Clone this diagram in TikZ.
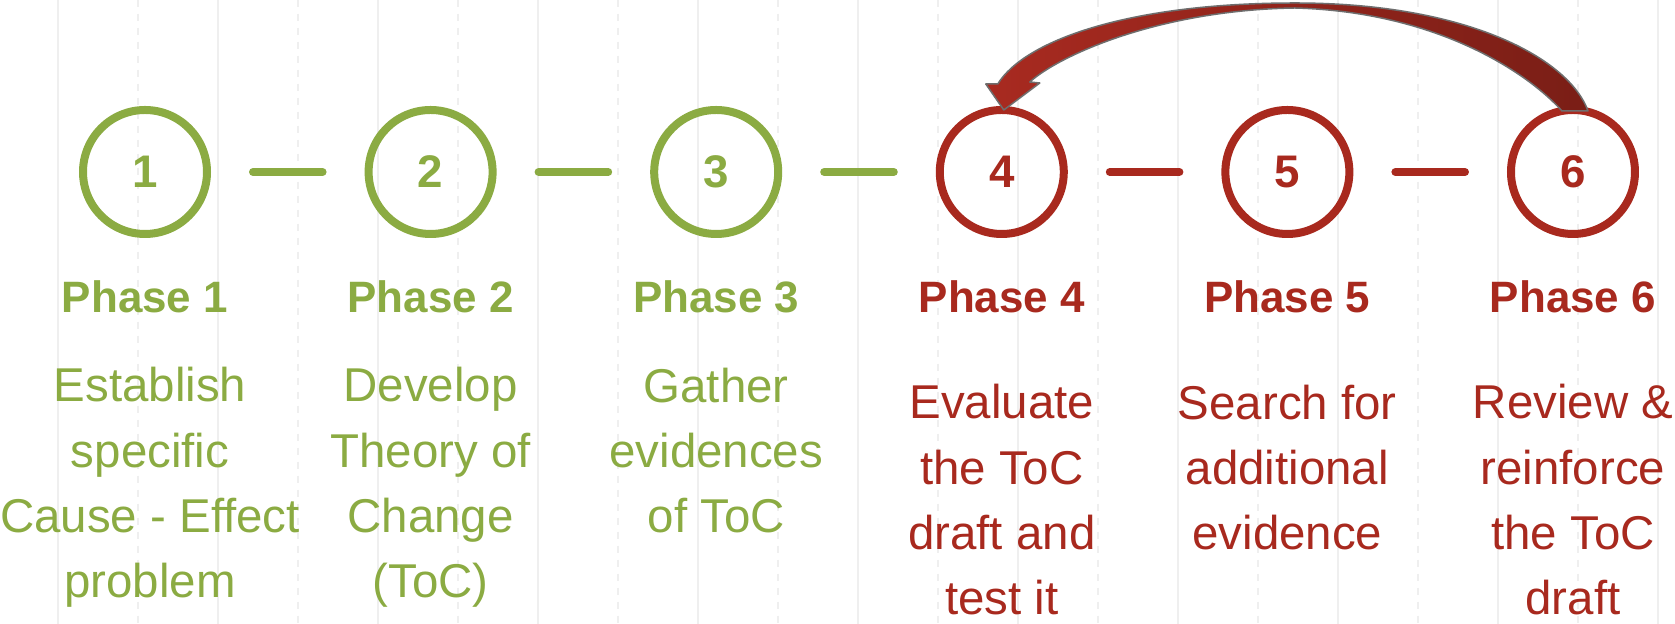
\documentclass[tikz,border=0pt]{standalone}
\usepackage{fontspec}
\setmainfont{Liberation Sans}
\usetikzlibrary{positioning}
\definecolor{phasegreen}{HTML}{8BAB42}
\definecolor{phasered}{HTML}{A8291E}
\definecolor{gridgray}{HTML}{EFEFEF}
\definecolor{arrowgray}{HTML}{6E6E6E}
\definecolor{arrowhead}{HTML}{A82A20}
\definecolor{arrowtail}{HTML}{7A1E16}
\tikzstyle{ring} = [circle, draw, line width=0.8mm, minimum size=12.4mm,
    inner sep=0pt, font=\fontsize{13}{15}\selectfont\bfseries]
\tikzstyle{greenring} = [ring, draw=phasegreen, text=phasegreen]
\tikzstyle{redring} = [ring, draw=phasered, text=phasered]
\tikzstyle{phasetitle} = [anchor=base, inner sep=0pt,
    font=\fontsize{12.5}{15}\selectfont\bfseries]
\tikzstyle{phasetext} = [anchor=base, align=center, inner sep=0pt,
    font=\fontsize{13.5}{18.6}\selectfont]
\tikzstyle{link} = [line width=0.8mm, line cap=round,
    shorten <=4.2mm, shorten >=4.2mm, yshift=-0.4mm]
\tikzstyle{gridline} = [draw=gridgray, line width=0.15mm]

\begin{document}
\begin{tikzpicture}[x=0.1mm, y=-0.1mm]
    \path[fill=white, use as bounding box] (0,0) rectangle (1675,624);
    % background guides
    \foreach \x in {58,218,...,1658}
        \draw[gridline] (\x,0) -- (\x,624);
    \foreach \x in {138,298,...,1618}
        \draw[gridline, dash pattern=on 0.7mm off 0.7mm] (\x,0) -- (\x,624);

    \node [greenring] (c1) at (145,172) {1};
    \node [greenring, right=15.36mm of c1] (c2) {2};
    \node [greenring, right=15.36mm of c2] (c3) {3};
    \node [redring, right=15.36mm of c3] (c4) {4};
    \node [redring, right=15.36mm of c4] (c5) {5};
    \node [redring, right=15.36mm of c5] (c6) {6};

    \node [phasetitle, text=phasegreen] (p1) at ([yshift=-14.1mm]c1.center) {Phase 1};
    \node [phasetitle, text=phasegreen] (p2) at ([yshift=-14.1mm]c2.center) {Phase 2};
    \node [phasetitle, text=phasegreen] (p3) at ([yshift=-14.1mm]c3.center) {Phase 3};
    \node [phasetitle, text=phasered] (p4) at ([yshift=-14.1mm]c4.center) {Phase 4};
    \node [phasetitle, text=phasered] (p5) at ([yshift=-14.1mm]c5.center) {Phase 5};
    \node [phasetitle, text=phasered] (p6) at ([yshift=-14.1mm]c6.center) {Phase 6};

    % base anchor sits on the last line
    \node [phasetext, text=phasegreen] (d1) at ([xshift=0.5mm,yshift=-42.6mm]c1.center)
        {Establish\\specific\\Cause - Effect\\problem};
    \node [phasetext, text=phasegreen] (d2) at ([yshift=-42.6mm]c2.center)
        {Develop\\Theory of\\Change\\(ToC)};
    \node [phasetext, text=phasegreen] (d3) at ([yshift=-36.1mm]c3.center)
        {Gather\\evidences\\of ToC};
    \node [phasetext, text=phasered] (d4) at ([yshift=-44.3mm]c4.center)
        {Evaluate\\the ToC\\draft and\\test it};
    \node [phasetext, text=phasered] (d5) at ([yshift=-37.8mm]c5.center)
        {Search for\\additional\\evidence};
    \node [phasetext, text=phasered] (d6) at ([yshift=-44.3mm]c6.center)
        {Review \&\\reinforce\\the ToC\\draft};

    \draw [link, phasegreen] (c1) -- (c2);
    \draw [link, phasegreen] (c2) -- (c3);
    \draw [link, phasegreen] (c3) -- (c4);
    \draw [link, phasered] (c4) -- (c5);
    \draw [link, phasered] (c5) -- (c6);

    % loop back from phase 6 to phase 4
    \coordinate (archtop) at (1295,3);
    \coordinate (archin) at (1295,8);
    \shadedraw [left color=arrowhead, right color=arrowtail, draw=arrowgray,
        line width=0.15mm, line join=round]
        ([shift={(15,5)}]c6.north) .. controls +(-18,-51) and +(175,0) .. (archtop)
        .. controls +(-165,0) and +(27,-44) .. ([shift={(-4,-22)}]c4.north)
        -- ++(-12,0)
        -- ([shift={(2,4)}]c4.north)
        -- ([shift={(38,-23)}]c4.north)
        -- ([shift={(28,-24)}]c4.north)
        .. controls +(30,-27) and +(-135,2) .. (archin)
        .. controls +(145,4) and +(-32,-36) .. ([shift={(-11,5)}]c6.north)
        -- cycle;
\end{tikzpicture}
\end{document}
